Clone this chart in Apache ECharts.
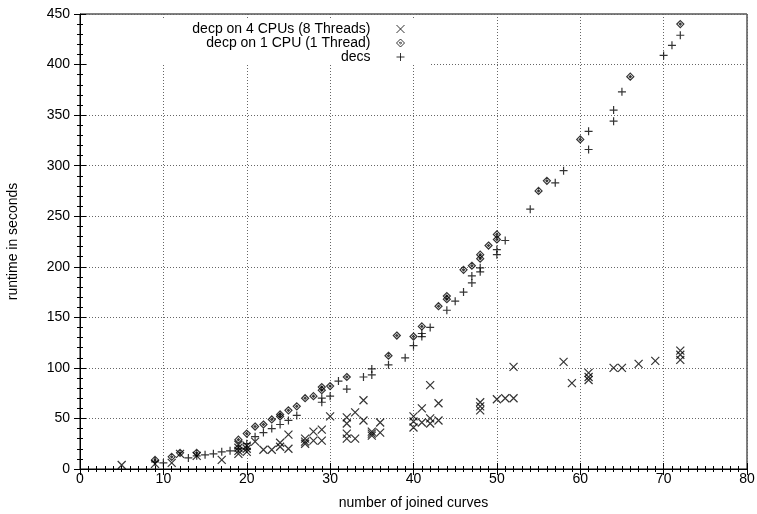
<!DOCTYPE html>
<html lang="en">
  <head>
    <meta charset="UTF-8" />
    <title>runtime</title>
    <script src="https://cdn.jsdelivr.net/npm/echarts@6/dist/echarts.min.js"></script>
    <style>
      html, body { margin: 0; padding: 0; background: #fff; }
      #main { width: 757px; height: 514px; }
    </style>
  </head>
  <body>
    <div id="main"></div>
    <script>
      const myChart = echarts.init(document.getElementById('main'))

      // decp on 4 CPUs (8 Threads)
      const fourCpuX = [5, 9, 11, 12, 14, 17, 19, 19, 19, 19, 20, 20, 20, 21, 22, 23, 24, 24, 25, 25,
        27, 27, 27, 28, 28, 29, 29, 30, 32, 32, 32, 32, 33, 33, 34, 34, 35, 35, 35, 36, 36,
        40, 40, 40, 41, 41, 42, 42, 42, 43, 43, 48, 48, 48, 50, 51, 52, 52, 58, 59, 61, 61, 61,
        64, 65, 67, 69, 72, 72, 72]
      const fourCpuY = [4, 5, 6, 15, 13, 9, 15, 18, 21, 24, 17, 20, 23, 27, 19, 19, 22, 26, 34, 20,
        25, 27, 30, 37, 28, 39, 28, 52, 51, 45, 35, 30, 56, 30, 68, 48, 33, 35, 37, 46, 36,
        52, 47, 41, 60, 46, 83, 50, 45, 65, 48, 58, 62, 66, 69, 70, 70, 101, 106, 85, 88, 91, 95,
        100, 100, 104, 107, 108, 113, 117]

      // decp on 1 CPU (1 Thread)
      const oneCpuX = [9, 11, 12, 14, 19, 20, 21, 22, 23, 24, 24, 25, 26, 27, 28, 29, 29, 30, 32,
        37, 38, 40, 41, 43, 44, 44, 46, 47, 48, 48, 49, 50, 50, 55, 56, 60, 66, 72]
      const oneCpuY = [9, 12, 16, 16, 29, 35, 42, 44, 49, 52, 54, 58, 62, 70, 72, 78, 81, 82, 91,
        112, 132, 131, 141, 161, 168, 171, 197, 201, 208, 212, 221, 227, 232, 275, 285, 326, 388, 440]

      // decs
      const decsX = [9, 10, 13, 14, 15, 16, 17, 18, 19, 20, 20, 21, 22, 23, 24, 25, 26, 29, 29, 30,
        31, 32, 34, 35, 35, 37, 39, 40, 41, 41, 42, 44, 45, 46, 47, 47, 48, 48, 50, 50, 51,
        54, 57, 58, 61, 61, 64, 64, 65, 70, 71, 72]
      const decsY = [7, 6, 11, 13, 14, 15, 17, 18, 20, 20, 25, 32, 36, 40, 44, 48, 53, 66, 70, 72,
        87, 79, 91, 93, 99, 103, 110, 122, 131, 134, 140, 157, 166, 175, 184, 191, 195, 199, 212, 217, 226,
        257, 283, 295, 316, 334, 344, 355, 373, 409, 419, 429]

      const names = ['decp on 4 CPUs (8 Threads)', 'decp on 1 CPU (1 Thread)', 'decs']

      const pairs = (xs, ys) => xs.map((x, i) => [x, ys[i]])

      const font = 'Liberation Sans, Arial, sans-serif'
      const crossSym = 'path://M0,0L10,10M10,0L0,10'
      const diamondSym = 'path://M5,0L10,5L5,10L0,5Z M5,3.6L6.4,5L5,6.4L3.6,5Z'
      const plusSym = 'path://M5,0L5,10M0,5L10,5'
      const markStyle = { color: 'none', borderColor: '#000', borderWidth: 1.2 }

      const gridLine = { show: true, lineStyle: { color: '#666', type: [1, 2], width: 1 } }
      const labelStyle = { color: '#000', fontSize: 14, fontFamily: font }

      const legendBase = {
        orient: 'vertical',
        align: 'right',
        itemWidth: 50,
        itemHeight: 8,
        selectedMode: false,
        itemStyle: { color: 'none', borderColor: '#000', borderWidth: 1 },
        textStyle: { color: '#000', fontSize: 14, fontFamily: font },
      }

      const option = {
        animation: false,
        grid: {
          left: 80, right: 10, top: 14, bottom: 45,
          outerBoundsMode: 'none',
          show: true, borderColor: '#000', borderWidth: 1,
        },
        legend: [
          Object.assign({}, legendBase, {
            data: [names[0]], top: 20, right: 327,
            padding: [2, 23, 29, 104], backgroundColor: '#fff',
          }),
          Object.assign({}, legendBase, { data: [names[1]], top: 36, right: 350, padding: 0 }),
          Object.assign({}, legendBase, { data: [names[2]], top: 50, right: 350, padding: 0 }),
        ],
        xAxis: [
          {
            type: 'value', min: 0, max: 80, interval: 10,
            name: 'number of joined curves', nameLocation: 'middle', nameGap: 27,
            nameTextStyle: labelStyle,
            axisLine: { lineStyle: { color: '#000' } },
            axisTick: { inside: true, length: 6, lineStyle: { color: '#000' } },
            minorTick: { show: true, splitNumber: 10, length: 3, lineStyle: { color: '#000' } },
            axisLabel: Object.assign({ margin: 3 }, labelStyle),
            splitLine: gridLine,
          },
          {
            type: 'value', min: 0, max: 80, interval: 10, position: 'top',
            axisLine: { show: false },
            axisTick: { inside: true, length: 6, lineStyle: { color: '#000' } },
            minorTick: { show: true, splitNumber: 10, length: 3, lineStyle: { color: '#000' } },
            axisLabel: { show: false },
            splitLine: { show: false },
          },
        ],
        yAxis: [
          {
            type: 'value', min: 0, max: 450, interval: 50,
            name: 'runtime in seconds', nameLocation: 'middle', nameGap: 60,
            nameTextStyle: labelStyle,
            axisLine: { show: true, lineStyle: { color: '#000' } },
            axisTick: { show: true, inside: true, length: 6, lineStyle: { color: '#000' } },
            minorTick: { show: true, splitNumber: 5, length: 3, lineStyle: { color: '#000' } },
            axisLabel: Object.assign({ margin: 10 }, labelStyle),
            splitLine: gridLine,
          },
          {
            type: 'value', min: 0, max: 450, interval: 50, position: 'right',
            axisLine: { show: false },
            axisTick: { show: true, inside: true, length: 6, lineStyle: { color: '#000' } },
            minorTick: { show: true, splitNumber: 5, length: 3, lineStyle: { color: '#000' } },
            axisLabel: { show: false },
            splitLine: { show: false },
          },
        ],
        series: [
          {
            name: names[0], type: 'scatter', symbol: crossSym, symbolSize: 8,
            itemStyle: markStyle, emphasis: { disabled: true },
            data: pairs(fourCpuX, fourCpuY),
          },
          {
            name: names[1], type: 'scatter', symbol: diamondSym, symbolSize: 7,
            itemStyle: markStyle, emphasis: { disabled: true },
            data: pairs(oneCpuX, oneCpuY),
          },
          {
            name: names[2], type: 'scatter', symbol: plusSym, symbolSize: 8,
            itemStyle: markStyle, emphasis: { disabled: true },
            data: pairs(decsX, decsY),
          },
        ],
      }

      myChart.setOption(option)
    </script>
  </body>
</html>
